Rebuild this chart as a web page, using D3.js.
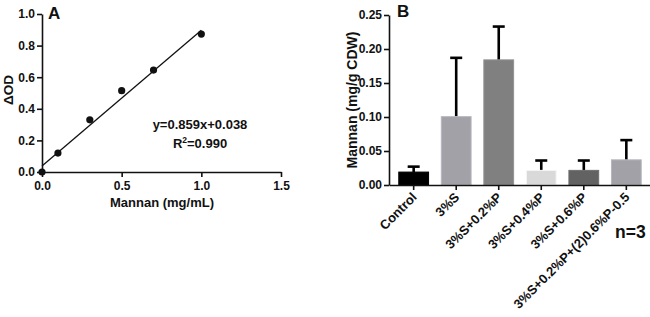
<!DOCTYPE html>
<html><head><meta charset="utf-8">
<script src="https://cdn.jsdelivr.net/npm/d3@7"></script>
<style>body{margin:0;background:#fff}svg{display:block}text{font-family:Arial,"Liberation Sans",sans-serif;font-weight:bold;fill:#111}</style>
</head><body>
<svg id="c" width="650" height="317"></svg>
<script>
// Panel A data
const concX = [0, 0.1, 0.3, 0.5, 0.7, 1.0];
const deltaOD = [0, 0.12, 0.33, 0.515, 0.645, 0.873];
const fitSlope = 0.859, fitIntercept = 0.038;
const xTicksA = [0, 0.5, 1.0, 1.5];
const yTicksA = [0, 0.2, 0.4, 0.6, 0.8, 1.0];
// Panel B data
const categories = ["Control", "3%S", "3%S+0.2%P", "3%S+0.4%P", "3%S+0.6%P", "3%S+0.2%P+(2)0.6%P-0.5"];
const means = [0.019, 0.1005, 0.184, 0.0215, 0.0215, 0.037];
const errTop = [0.027, 0.187, 0.233, 0.036, 0.036, 0.066];
const colors = ["#000000", "#a1a1a7", "#808080", "#d9d9d9", "#626262", "#a1a1a7"];
const yTicksB = [0, 0.05, 0.10, 0.15, 0.20, 0.25];

const svg = d3.select("#c");

function styleAxis(a, fs) {
  a.select(".domain").attr("stroke", "#111").attr("stroke-width", 1.6);
  a.selectAll(".tick line").attr("stroke", "#111").attr("stroke-width", 1.6);
  a.selectAll(".tick text").attr("font-size", fs).attr("font-weight", "bold").attr("fill", "#111")
    .attr("font-family", "Arial, 'Liberation Sans', sans-serif");
}

// ---------- Panel A ----------
const xA = d3.scaleLinear().domain([0, 1.5]).range([42, 281]);
const yA = d3.scaleLinear().domain([0, 1.0]).range([172, 14]);
const gA = svg.append("g");
const axXA = gA.append("g").attr("transform", "translate(0,172)")
  .call(d3.axisBottom(xA).tickValues(xTicksA).tickFormat(d3.format(".1f")).tickSize(5).tickPadding(4).tickSizeOuter(0));
const axYA = gA.append("g").attr("transform", "translate(42,0)")
  .call(d3.axisLeft(yA).tickValues(yTicksA).tickFormat(d3.format(".1f")).tickSize(5).tickPadding(2).tickSizeOuter(0));
styleAxis(axXA, 12); styleAxis(axYA, 12);

gA.append("line")
  .attr("x1", xA(0)).attr("y1", yA(fitIntercept))
  .attr("x2", xA(1.0)).attr("y2", yA(fitSlope * 1.0 + fitIntercept))
  .attr("stroke", "#111").attr("stroke-width", 1.3);
gA.selectAll("circle.pt").data(concX).enter().append("circle")
  .attr("cx", (d) => xA(d)).attr("cy", (d, i) => yA(deltaOD[i])).attr("r", 3.6).attr("fill", "#111");

gA.append("text").attr("x", 48).attr("y", 19).attr("font-size", 17).text("A");
gA.append("text").attr("transform", "translate(13,90) rotate(-90)").attr("text-anchor", "middle")
  .attr("font-size", 13.5).text("ΔOD");
gA.append("text").attr("x", 162).attr("y", 207).attr("text-anchor", "middle").attr("font-size", 13)
  .text("Mannan (mg/mL)");
gA.append("text").attr("x", 200).attr("y", 129).attr("text-anchor", "middle").attr("font-size", 13)
  .text("y=0.859x+0.038");
const r2 = gA.append("text").attr("x", 200).attr("y", 148).attr("text-anchor", "middle").attr("font-size", 13);
r2.append("tspan").text("R");
r2.append("tspan").attr("dy", -5).attr("font-size", 8.5).text("2");
r2.append("tspan").attr("dy", 5).text("=0.990");

// ---------- Panel B ----------
const xB = d3.scaleBand().domain(categories).range([389, 651]).paddingInner(0.3).paddingOuter(0.23);
const yB = d3.scaleLinear().domain([0, 0.25]).range([185, 15]);
const gB = svg.append("g");

gB.selectAll("line.err").data(categories).enter().append("line")
  .attr("x1", d => xB(d) + xB.bandwidth() / 2).attr("x2", d => xB(d) + xB.bandwidth() / 2)
  .attr("y1", (d, i) => yB(means[i])).attr("y2", (d, i) => yB(errTop[i]))
  .attr("stroke", "#000").attr("stroke-width", 2.6);
gB.selectAll("line.cap").data(categories).enter().append("line")
  .attr("x1", d => xB(d) + xB.bandwidth() / 2 - 6).attr("x2", d => xB(d) + xB.bandwidth() / 2 + 6)
  .attr("y1", (d, i) => yB(errTop[i])).attr("y2", (d, i) => yB(errTop[i]))
  .attr("stroke", "#000").attr("stroke-width", 2.6);
gB.selectAll("rect.bar").data(categories).enter().append("rect")
  .attr("x", d => xB(d)).attr("width", xB.bandwidth())
  .attr("y", (d, i) => yB(means[i])).attr("height", (d, i) => yB(0) - yB(means[i]))
  .attr("fill", (d, i) => colors[i])
  .attr("stroke", (d, i) => i === 0 ? "#000" : d3.color(colors[i]).brighter(0.35))
  .attr("stroke-width", 1);

const axXB = gB.append("g").attr("transform", "translate(0,185)")
  .call(d3.axisBottom(xB).tickSize(5).tickSizeOuter(0));
const axYB = gB.append("g").attr("transform", "translate(389,0)")
  .call(d3.axisLeft(yB).tickValues(yTicksB).tickFormat(d3.format(".2f")).tickSize(5).tickPadding(2).tickSizeOuter(0));
styleAxis(axXB, 13); styleAxis(axYB, 12);
axXB.selectAll(".tick text").attr("text-anchor", "end").attr("dy", 0).attr("y", 0)
  .attr("transform", "translate(4,13) rotate(-45)");

gB.append("text").attr("x", 397).attr("y", 17).attr("font-size", 17).text("B");
gB.append("text").attr("transform", "translate(357,100) rotate(-90)").attr("text-anchor", "middle")
  .attr("font-size", 14).text("Mannan (mg/g CDW)");
gB.append("text").attr("x", 615).attr("y", 238).attr("font-size", 17.5).text("n=3");
</script>
</body></html>
